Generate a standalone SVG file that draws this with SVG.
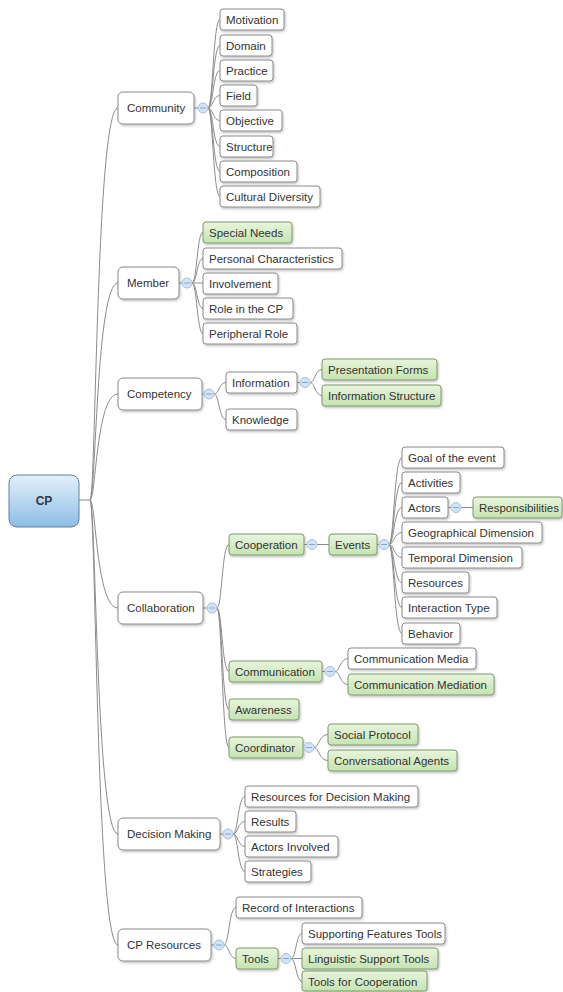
<svg xmlns="http://www.w3.org/2000/svg" xmlns:xlink="http://www.w3.org/1999/xlink" width="563" height="992" viewBox="0 0 563 992">
<style>
.n{fill:#fff;stroke:#8a8a8a;stroke-width:1;filter:url(#sh)}
.g{fill:url(#gg);stroke:#7d9a6c;stroke-width:1;filter:url(#sh)}
.t{font-family:"Liberation Sans",Arial,sans-serif;font-size:11.5px;fill:#333}
.c path{fill:none;stroke:#8c8c8c;stroke-width:1}
.k circle{fill:#d3e3f4;stroke:#a6c0e0;stroke-width:1}
.k path{stroke:#86a6cf;stroke-width:1}
</style>
<defs>
<linearGradient id="gg" x1="0" y1="0" x2="0" y2="1"><stop offset="0" stop-color="#e8f5dd"/><stop offset="1" stop-color="#c6e3b1"/></linearGradient>
<linearGradient id="bg" x1="0" y1="0" x2="0" y2="1"><stop offset="0" stop-color="#e4f0fa"/><stop offset="1" stop-color="#8dbde6"/></linearGradient>
<filter id="sh" x="-10%" y="-20%" width="130%" height="160%"><feDropShadow dx="1" dy="1.5" stdDeviation="0.8" flood-color="#000" flood-opacity="0.25"/></filter>
<g id="col" class="k"><circle r="5"/><path d="M-3 0H3"/></g>
</defs>
<rect width="563" height="992" fill="#fff"/>
<g id="connectors" class="c">
<path d="M79 500H90"/>
<path d="M90 500C96 500 96 108 118 108"/>
<path d="M90 500C96 500 96 283 118 283"/>
<path d="M90 500C96 500 96 394 118 394"/>
<path d="M90 500C96 500 96 608 118 608"/>
<path d="M90 500C96 500 96 834 118 834"/>
<path d="M90 500C96 500 96 945 118 945"/>
<path d="M194 108H198"/>
<path d="M208 108C213 108 213 19.5 220 19.5"/>
<path d="M208 108C213 108 213 45.5 220 45.5"/>
<path d="M208 108C213 108 213 70.5 220 70.5"/>
<path d="M208 108C213 108 213 95.5 220 95.5"/>
<path d="M208 108C213 108 213 120.5 220 120.5"/>
<path d="M208 108C213 108 213 146.5 220 146.5"/>
<path d="M208 108C213 108 213 171.5 220 171.5"/>
<path d="M208 108C213 108 213 196.5 220 196.5"/>
<path d="M179 283H182"/>
<path d="M192 283C197 283 197 232.5 203 232.5"/>
<path d="M192 283C197 283 197 258.5 203 258.5"/>
<path d="M192 283H203"/>
<path d="M192 283C197 283 197 308.5 203 308.5"/>
<path d="M192 283C197 283 197 333.5 203 333.5"/>
<path d="M202 394H204"/>
<path d="M214 394C219 394 219 382.5 226 382.5"/>
<path d="M214 394C219 394 219 419.5 226 419.5"/>
<path d="M297 382.5H300"/>
<path d="M310 382.5C315 382.5 315 369.5 322 369.5"/>
<path d="M310 382.5C315 382.5 315 395.5 322 395.5"/>
<path d="M203 608H207"/>
<path d="M217 608C222 608 222 544.5 229 544.5"/>
<path d="M217 608C222 608 222 671.5 229 671.5"/>
<path d="M217 608C222 608 222 709.5 229 709.5"/>
<path d="M217 608C222 608 222 747.5 229 747.5"/>
<path d="M304 544.5H307"/>
<path d="M317 544.5H329"/>
<path d="M377 544.5H379"/>
<path d="M389 544.5C394 544.5 394 457.5 402 457.5"/>
<path d="M389 544.5C394 544.5 394 482.5 402 482.5"/>
<path d="M389 544.5C394 544.5 394 507.5 402 507.5"/>
<path d="M389 544.5C394 544.5 394 532.5 402 532.5"/>
<path d="M389 544.5C394 544.5 394 557.5 402 557.5"/>
<path d="M389 544.5C394 544.5 394 582.5 402 582.5"/>
<path d="M389 544.5C394 544.5 394 607.5 402 607.5"/>
<path d="M389 544.5C394 544.5 394 633.5 402 633.5"/>
<path d="M448 507.5H451"/>
<path d="M461 507.5H473"/>
<path d="M322 671.5H325"/>
<path d="M335 671.5C340 671.5 340 658.5 348 658.5"/>
<path d="M335 671.5C340 671.5 340 684.5 348 684.5"/>
<path d="M303 747.5H304"/>
<path d="M314 747.5C319 747.5 319 734.5 328 734.5"/>
<path d="M314 747.5C319 747.5 319 760.5 328 760.5"/>
<path d="M220 834H223"/>
<path d="M233 834C238 834 238 796.5 245 796.5"/>
<path d="M233 834C238 834 238 821.5 245 821.5"/>
<path d="M233 834C238 834 238 846.5 245 846.5"/>
<path d="M233 834C238 834 238 871.5 245 871.5"/>
<path d="M211 945H214"/>
<path d="M224 945C229 945 229 907.5 236 907.5"/>
<path d="M224 945C229 945 229 958.5 236 958.5"/>
<path d="M278 958.5H281"/>
<path d="M291 958.5C296 958.5 296 933.5 302 933.5"/>
<path d="M291 958.5H302"/>
<path d="M291 958.5C296 958.5 296 981.5 302 981.5"/>
</g>
<g id="cp"><rect x="9" y="475" width="70" height="52" rx="8" fill="url(#bg)" stroke="#5f82a3" stroke-width="1"/><text x="44" y="505" text-anchor="middle" style="font-family:'Liberation Sans',Arial,sans-serif;font-size:12px;font-weight:bold;fill:#2f3a45">CP</text></g>

<g id="community"><rect class="n" x="118" y="92" width="76" height="32" rx="5"/><text class="t" x="127" y="112">Community</text><use href="#col" x="203" y="108"/></g>
<g id="motivation"><rect class="n" x="220" y="9" width="64" height="21" rx="3"/><text class="t" x="226" y="24">Motivation</text></g>
<g id="domain"><rect class="n" x="220" y="35" width="52" height="21" rx="3"/><text class="t" x="226" y="50">Domain</text></g>
<g id="practice"><rect class="n" x="220" y="60" width="53" height="21" rx="3"/><text class="t" x="226" y="75">Practice</text></g>
<g id="field"><rect class="n" x="220" y="85" width="37" height="21" rx="3"/><text class="t" x="226" y="100">Field</text></g>
<g id="objective"><rect class="n" x="220" y="110" width="62" height="21" rx="3"/><text class="t" x="226" y="125">Objective</text></g>
<g id="structure"><rect class="n" x="220" y="136" width="53" height="21" rx="3"/><text class="t" x="226" y="151">Structure</text></g>
<g id="composition"><rect class="n" x="220" y="161" width="77" height="21" rx="3"/><text class="t" x="226" y="176">Composition</text></g>
<g id="cultural-diversity"><rect class="n" x="220" y="186" width="100" height="21" rx="3"/><text class="t" x="226" y="201">Cultural Diversity</text></g>

<g id="member"><rect class="n" x="118" y="267" width="61" height="32" rx="5"/><text class="t" x="127" y="287">Member</text><use href="#col" x="187" y="283"/></g>
<g id="special-needs"><rect class="g" x="203" y="222" width="89" height="21" rx="3"/><text class="t" x="209" y="237">Special Needs</text></g>
<g id="personal-characteristics"><rect class="n" x="203" y="248" width="139" height="21" rx="3"/><text class="t" x="209" y="263">Personal Characteristics</text></g>
<g id="involvement"><rect class="n" x="203" y="273" width="75" height="21" rx="3"/><text class="t" x="209" y="288">Involvement</text></g>
<g id="role-in-the-cp"><rect class="n" x="203" y="298" width="90" height="21" rx="3"/><text class="t" x="209" y="313">Role in the CP</text></g>
<g id="peripheral-role"><rect class="n" x="203" y="323" width="94" height="21" rx="3"/><text class="t" x="209" y="338">Peripheral Role</text></g>

<g id="competency"><rect class="n" x="118" y="378" width="84" height="32" rx="5"/><text class="t" x="127" y="398">Competency</text><use href="#col" x="209" y="394"/></g>
<g id="information"><rect class="n" x="226" y="372" width="71" height="21" rx="3"/><text class="t" x="232" y="387">Information</text><use href="#col" x="305" y="382.5"/></g>
<g id="knowledge"><rect class="n" x="226" y="409" width="71" height="21" rx="3"/><text class="t" x="232" y="424">Knowledge</text></g>
<g id="presentation-forms"><rect class="g" x="322" y="359" width="115" height="21" rx="3"/><text class="t" x="328" y="374">Presentation Forms</text></g>
<g id="information-structure"><rect class="g" x="322" y="385" width="119" height="21" rx="3"/><text class="t" x="328" y="400">Information Structure</text></g>

<g id="collaboration"><rect class="n" x="118" y="592" width="85" height="32" rx="5"/><text class="t" x="127" y="612">Collaboration</text><use href="#col" x="212" y="608"/></g>
<g id="cooperation"><rect class="g" x="229" y="534" width="75" height="21" rx="3"/><text class="t" x="235" y="549">Cooperation</text><use href="#col" x="312" y="544.5"/></g>
<g id="events"><rect class="g" x="329" y="534" width="48" height="21" rx="3"/><text class="t" x="335" y="549">Events</text><use href="#col" x="384" y="544.5"/></g>
<g id="goal-of-the-event"><rect class="n" x="402" y="447" width="102" height="21" rx="3"/><text class="t" x="408" y="462">Goal of the event</text></g>
<g id="activities"><rect class="n" x="402" y="472" width="58" height="21" rx="3"/><text class="t" x="408" y="487">Activities</text></g>
<g id="actors"><rect class="n" x="402" y="497" width="46" height="21" rx="3"/><text class="t" x="408" y="512">Actors</text><use href="#col" x="456" y="507.5"/></g>
<g id="responsibilities"><rect class="g" x="473" y="497" width="89" height="21" rx="3"/><text class="t" x="479" y="512">Responsibilities</text></g>
<g id="geographical-dimension"><rect class="n" x="402" y="522" width="140" height="21" rx="3"/><text class="t" x="408" y="537">Geographical Dimension</text></g>
<g id="temporal-dimension"><rect class="n" x="402" y="547" width="120" height="21" rx="3"/><text class="t" x="408" y="562">Temporal Dimension</text></g>
<g id="resources"><rect class="n" x="402" y="572" width="67" height="21" rx="3"/><text class="t" x="408" y="587">Resources</text></g>
<g id="interaction-type"><rect class="n" x="402" y="597" width="95" height="21" rx="3"/><text class="t" x="408" y="612">Interaction Type</text></g>
<g id="behavior"><rect class="n" x="402" y="623" width="58" height="21" rx="3"/><text class="t" x="408" y="638">Behavior</text></g>
<g id="communication"><rect class="g" x="229" y="661" width="93" height="21" rx="3"/><text class="t" x="235" y="676">Communication</text><use href="#col" x="330" y="671.5"/></g>
<g id="communication-media"><rect class="n" x="348" y="648" width="128" height="21" rx="3"/><text class="t" x="354" y="663">Communication Media</text></g>
<g id="communication-mediation"><rect class="g" x="348" y="674" width="146" height="21" rx="3"/><text class="t" x="354" y="689">Communication Mediation</text></g>
<g id="awareness"><rect class="g" x="229" y="699" width="70" height="21" rx="3"/><text class="t" x="235" y="714">Awareness</text></g>
<g id="coordinator"><rect class="g" x="229" y="737" width="74" height="21" rx="3"/><text class="t" x="235" y="752">Coordinator</text><use href="#col" x="309" y="747.5"/></g>
<g id="social-protocol"><rect class="g" x="328" y="724" width="90" height="21" rx="3"/><text class="t" x="334" y="739">Social Protocol</text></g>
<g id="conversational-agents"><rect class="g" x="328" y="750" width="129" height="21" rx="3"/><text class="t" x="334" y="765">Conversational Agents</text></g>

<g id="decision-making"><rect class="n" x="118" y="818" width="102" height="32" rx="5"/><text class="t" x="127" y="838">Decision Making</text><use href="#col" x="228" y="834"/></g>
<g id="resources-for-decision-making"><rect class="n" x="245" y="786" width="173" height="21" rx="3"/><text class="t" x="251" y="801">Resources for Decision Making</text></g>
<g id="results"><rect class="n" x="245" y="811" width="51" height="21" rx="3"/><text class="t" x="251" y="826">Results</text></g>
<g id="actors-involved"><rect class="n" x="245" y="836" width="93" height="21" rx="3"/><text class="t" x="251" y="851">Actors Involved</text></g>
<g id="strategies"><rect class="n" x="245" y="861" width="66" height="21" rx="3"/><text class="t" x="251" y="876">Strategies</text></g>

<g id="cp-resources"><rect class="n" x="118" y="929" width="93" height="32" rx="5"/><text class="t" x="127" y="949">CP Resources</text><use href="#col" x="219" y="945"/></g>
<g id="record-of-interactions"><rect class="n" x="236" y="897" width="126" height="21" rx="3"/><text class="t" x="242" y="912">Record of Interactions</text></g>
<g id="tools"><rect class="g" x="236" y="948" width="42" height="21" rx="3"/><text class="t" x="242" y="963">Tools</text><use href="#col" x="286" y="958.5"/></g>
<g id="supporting-features-tools"><rect class="n" x="302" y="923" width="143" height="21" rx="3"/><text class="t" x="308" y="938">Supporting Features Tools</text></g>
<g id="linguistic-support-tools"><rect class="g" x="302" y="948" width="136" height="21" rx="3"/><text class="t" x="308" y="963">Linguistic Support Tools</text></g>
<g id="tools-for-cooperation"><rect class="g" x="302" y="971" width="125" height="20" rx="3"/><text class="t" x="308" y="985.5">Tools for Cooperation</text></g>
</svg>
